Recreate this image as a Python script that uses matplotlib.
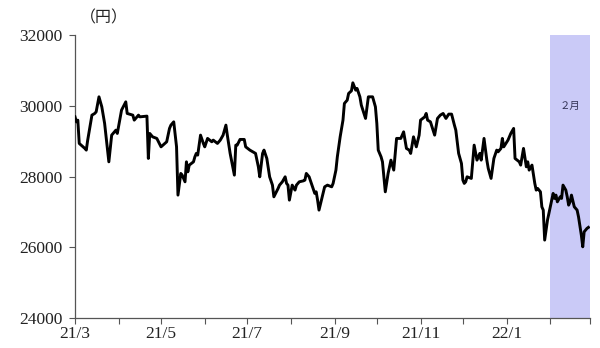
import matplotlib
matplotlib.use("Agg")
import matplotlib.pyplot as plt
import matplotlib.dates as mdates
import pandas as pd
import numpy as np

# ---- data ----
start_date = "2021-03-01"
day_offsets = [0, 1, 2, 3, 7, 8, 9, 12, 14, 15, 17, 19, 21, 24, 26, 29, 30, 33, 36, 37,
               41, 42, 45, 46, 51, 52, 53, 55, 58, 61, 65, 67, 68, 70, 72, 73, 75, 76, 78, 79,
               80, 81, 84, 85, 86, 87, 89, 91, 92, 94, 97, 98, 101, 103, 105, 107, 108, 110, 113, 114,
               115, 117, 120, 121, 124, 126, 128, 130, 131, 133, 134, 136, 138, 140, 141, 144, 145, 147, 149, 150,
               151, 152, 154, 156, 157, 159, 162, 163, 164, 166, 168, 170, 171, 172, 173, 175, 177, 179, 182, 183,
               185, 186, 188, 190, 191, 193, 194, 196, 197, 199, 200, 202, 203, 206, 208, 211, 213, 214, 215, 217,
               218, 220, 222, 224, 226, 228, 231, 233, 235, 237, 238, 240, 242, 244, 245, 248, 249, 250, 252, 255,
               257, 259, 261, 263, 265, 267, 269, 270, 272, 274, 275, 276, 277, 278, 281, 283, 285, 287, 288, 290,
               292, 293, 295, 297, 299, 300, 302, 303, 304, 307, 309, 311, 312, 315, 316, 318, 320, 321, 322, 324,
               326, 327, 328, 330, 331, 332, 333, 335, 336, 339, 340, 341, 342, 344, 345, 346, 348, 349, 350, 351,
               352, 354, 356, 357, 359, 360, 361, 363, 364]
prices = [29690, 29549, 29597, 28938, 28797, 28749, 29032, 29738, 29786, 29832,
          30256, 29973, 29504, 28418, 29173, 29314, 29221, 29880, 30114, 29786,
          29738, 29597, 29738, 29690, 29710, 28514, 29221, 29125, 29080, 28842,
          28984, 29362, 29456, 29549, 28842, 27477, 28090, 28042, 27853, 28418,
          28135, 28325, 28418, 28560, 28656, 28608, 29173, 28938, 28842, 29080,
          28984, 29032, 28938, 29032, 29173, 29456, 29173, 28656, 28042, 28890,
          28890, 29051, 29051, 28842, 28749, 28701, 28656, 28277, 27994, 28656,
          28749, 28514, 27994, 27759, 27429, 27666, 27759, 27853, 27994, 27808,
          27759, 27335, 27759, 27618, 27759, 27853, 27881, 27901, 28090, 27994,
          27759, 27525, 27570, 27335, 27053, 27383, 27711, 27759, 27711, 27808,
          28184, 28560, 29125, 29597, 30069, 30162, 30352, 30425, 30652, 30445,
          30493, 30256, 30021, 29645, 30256, 30256, 29973, 29504, 28749, 28560,
          28418, 27570, 28090, 28466, 28184, 29080, 29080, 29266, 28797, 28749,
          28656, 29125, 28842, 29173, 29597, 29690, 29786, 29597, 29549, 29173,
          29645, 29738, 29786, 29645, 29767, 29767, 29456, 29314, 28656, 28373,
          27901, 27808, 27853, 27994, 27949, 28890, 28466, 28656, 28466, 29080,
          28466, 28232, 27949, 28514, 28749, 28701, 28797, 29080, 28842, 29032,
          29221, 29362, 28514, 28418, 28325, 28797, 28277, 28418, 28184, 28325,
          27808, 27618, 27666, 27570, 27146, 27053, 26205, 26770, 26959, 27525,
          27383, 27477, 27287, 27429, 27383, 27759, 27618, 27429, 27194, 27287,
          27477, 27146, 27053, 26863, 26346, 26015, 26439, 26535, 26564]
shade_start = "2022-02-01"
shade_end = "2022-03-01"
shade_label = "２月"
unit_label = "（円）"
y_ticks = [24000, 26000, 28000, 30000, 32000]
month_ticks = pd.date_range("2021-03-01", "2022-03-01", freq="MS")
labeled_months = ["21/3", "", "21/5", "", "21/7", "", "21/9", "", "21/11", "", "22/1", "", ""]

dates = pd.Timestamp(start_date) + pd.to_timedelta(day_offsets, unit="D")

# ---- figure ----
fig = plt.figure(figsize=(6.0, 3.48), dpi=100)
ax = fig.add_axes([0.125, 0.086, 0.858, 0.813])

ax.axvspan(pd.Timestamp(shade_start), pd.Timestamp(shade_end), color="#cacaf7", lw=0, zorder=0)
ax.plot(dates, prices, color="black", lw=2.1, zorder=3, solid_joinstyle="round")

ax.set_xlim(pd.Timestamp("2021-03-01"), pd.Timestamp(shade_end))
ax.set_ylim(24000, 32000)
ax.set_yticks(y_ticks)
ax.set_yticklabels([str(v) for v in y_ticks], family=["Liberation Serif"], fontsize=12.5)
ax.set_xticks(month_ticks)
ax.set_xticklabels(labeled_months, family=["Liberation Serif"], fontsize=12.5)

for s in ["top", "right"]:
    ax.spines[s].set_visible(False)
for s in ["left", "bottom"]:
    ax.spines[s].set_color("#555555")
    ax.spines[s].set_linewidth(0.9)
ax.tick_params(axis="both", direction="out", length=4, width=0.8, color="#555555", labelcolor="#222222")
ax.tick_params(axis="y", pad=5)
ax.tick_params(axis="x", pad=2)

ax.text(0.01, 1.06, unit_label, transform=ax.transAxes, ha="left", va="center",
        family=["Noto Sans CJK JP", "DejaVu Sans"], fontsize=11.5, color="#222222")
ax.text(pd.Timestamp("2022-02-15"), 30000, shade_label, ha="center", va="center",
        family=["Noto Sans CJK JP", "DejaVu Sans"], fontsize=7.5, color="#333355")

fig.savefig("out.png", dpi=100)
